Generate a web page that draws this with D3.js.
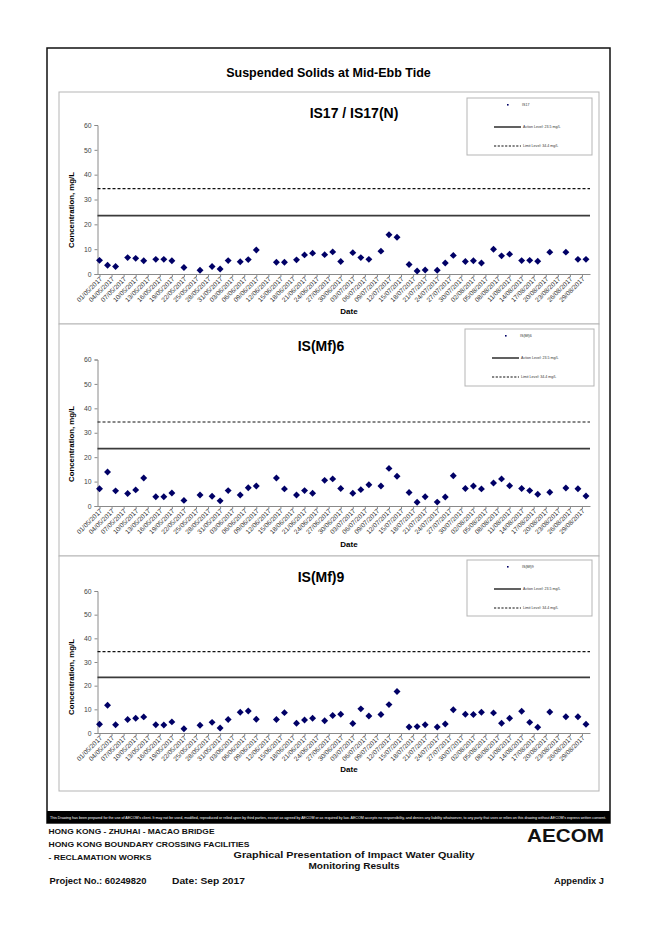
<!DOCTYPE html>
<html><head><meta charset="utf-8">
<script src="https://cdn.jsdelivr.net/npm/d3@7"></script>
<style>body{margin:0;background:#fff} svg{display:block} text{font-family:"Liberation Sans",Arial,sans-serif}</style>
</head><body><svg id="c" width="658" height="930"></svg>
<script>
const dates = ["01/05/2017","03/05/2017","05/05/2017","08/05/2017","10/05/2017","12/05/2017","15/05/2017","17/05/2017","19/05/2017","22/05/2017",
"26/05/2017","29/05/2017","31/05/2017","02/06/2017","05/06/2017","07/06/2017","09/06/2017","14/06/2017","16/06/2017","19/06/2017",
"21/06/2017","23/06/2017","26/06/2017","28/06/2017","30/06/2017","03/07/2017","05/07/2017","07/07/2017","10/07/2017","12/07/2017",
"14/07/2017","17/07/2017","19/07/2017","21/07/2017","24/07/2017","26/07/2017","28/07/2017","31/07/2017","02/08/2017","04/08/2017",
"07/08/2017","09/08/2017","11/08/2017","14/08/2017","16/08/2017","18/08/2017","21/08/2017","25/08/2017","28/08/2017","30/08/2017"];
const is17 = [5.5,3.5,3.0,6.6,6.3,5.3,5.9,5.9,5.3,2.6, 1.5,3.0,2.0,5.4,4.9,5.8,9.7,4.7,4.7,5.7, 7.7,8.4,7.8,8.9,5.0,8.6,6.6,5.9,9.2,15.8, 14.8,3.8,1.2,1.6,1.5,4.4,7.5,5.0,5.3,4.4, 10.0,7.3,8.0,5.4,5.5,5.1,8.8,8.8,5.9,5.9];
const isMf6 = [7.1,13.9,6.2,5.1,6.6,11.5,3.8,3.8,5.3,2.3, 4.5,4.0,2.1,6.3,4.5,7.5,8.2,11.5,7.0,4.5, 6.3,5.2,10.5,11.1,7.2,5.2,6.7,8.7,8.2,15.4, 12.2,5.5,1.5,3.8,1.6,3.7,12.4,7.2,8.2,7.0, 9.4,11.1,8.3,7.2,6.3,4.8,5.6,7.4,7.1,4.1];
const isMf9 = [3.7,11.7,3.5,5.7,6.2,6.8,3.5,3.4,4.7,1.8, 3.3,4.5,2.1,5.7,8.8,9.3,5.8,5.7,8.6,4.1, 5.5,6.2,5.2,7.4,7.9,4.0,10.2,7.2,7.8,12.0, 17.5,2.5,2.7,3.5,2.5,3.8,9.8,7.9,7.8,8.8, 8.5,4.1,6.2,9.2,4.5,2.4,8.9,6.9,6.9,3.7];
const tickLabels = ["01/05/2017","04/05/2017","07/05/2017","10/05/2017","13/05/2017","16/05/2017","19/05/2017","22/05/2017","25/05/2017","28/05/2017",
"31/05/2017","03/06/2017","06/06/2017","09/06/2017","12/06/2017","15/06/2017","18/06/2017","21/06/2017","24/06/2017","27/06/2017",
"30/06/2017","03/07/2017","06/07/2017","09/07/2017","12/07/2017","15/07/2017","18/07/2017","21/07/2017","24/07/2017","27/07/2017",
"30/07/2017","02/08/2017","05/08/2017","08/08/2017","11/08/2017","14/08/2017","17/08/2017","20/08/2017","23/08/2017","26/08/2017","29/08/2017"];
const yTicks = [0,10,20,30,40,50,60];
const actionLevel = 23.5;
const limitLevel = 34.4;
const chartTitles = ["IS17 / IS17(N)","IS(Mf)6","IS(Mf)9"];
const seriesNames = ["IS17","IS(Mf)6","IS(Mf)9"];
const seriesValues = [is17, isMf6, isMf9];

const parse = d3.timeParse("%d/%m/%Y");
const fmt = d3.timeFormat("%d/%m/%Y");
const svg = d3.select("#c");
const FONT = '"Liberation Sans",Arial,sans-serif';

// page frame
svg.append("rect").attr("x",47).attr("y",48).attr("width",563).attr("height",775)
  .attr("fill","none").attr("stroke","#111").attr("stroke-width",1.5);
svg.append("text").attr("x",328.5).attr("y",77).attr("text-anchor","middle")
  .attr("font-size",12.5).attr("font-weight","bold").text("Suspended Solids at Mid-Ebb Tide");

const panels = [
  {top:92,bottom:324,y0:274,y60:125,titleX:354,titleY:117.5,leg:{x:467,y:98,w:125,h:57},dateY:314,ylabY:210},
  {top:324,bottom:556,y0:506,y60:359.5,titleX:321,titleY:350.5,leg:{x:465,y:329,w:129,h:57},dateY:546.5,ylabY:444},
  {top:556,bottom:791,y0:733,y60:591,titleX:321,titleY:581.5,leg:{x:467,y:560,w:125,h:56},dateY:772,ylabY:677}
];
const x = d3.scaleTime()
  .domain([new Date(2017,3,30,12), new Date(2017,7,31,0)])
  .range([97.5, 590]);

const diamond = {draw(ctx,size){const r=Math.sqrt(size/2);ctx.moveTo(0,-r);ctx.lineTo(r,0);ctx.lineTo(0,r);ctx.lineTo(-r,0);ctx.closePath();}};
const sym = d3.symbol().type(diamond).size(24);

panels.forEach((p,i)=>{
  const g = svg.append("g");
  g.append("rect").attr("x",59).attr("y",p.top).attr("width",540).attr("height",p.bottom-p.top)
    .attr("fill","#fff").attr("stroke","#b5b5b5").attr("stroke-width",1);
  const y = d3.scaleLinear().domain([0,60]).range([p.y0,p.y60]);

  // axes
  const ya = g.append("g").attr("transform",`translate(${x.range()[0]},0)`)
    .call(d3.axisLeft(y).tickValues(yTicks).tickSize(3).tickPadding(3));
  ya.select(".domain").attr("stroke","#8a8a8a");
  ya.selectAll(".tick line").attr("stroke","#8a8a8a");
  ya.selectAll(".tick text").attr("font-size",6.8).attr("fill","#444").attr("font-family",FONT);

  const xa = g.append("g").attr("transform",`translate(0,${p.y0})`)
    .call(d3.axisBottom(x).tickValues(tickLabels.map(parse)).tickFormat(fmt).tickSize(3).tickSizeOuter(0));
  xa.select(".domain").attr("stroke","#8a8a8a");
  xa.selectAll(".tick line").attr("stroke","#8a8a8a");
  xa.selectAll(".tick text").attr("font-size",6.5).attr("fill","#333").attr("font-family",FONT)
    .attr("text-anchor","end").attr("dy",null).attr("y",0)
    .attr("transform","translate(2.5,5.5) rotate(-45)");

  // reference lines
  g.append("line").attr("x1",x.range()[0]).attr("x2",x.range()[1])
    .attr("y1",y(actionLevel)).attr("y2",y(actionLevel))
    .attr("stroke","#3a3a3a").attr("stroke-width",1.6);
  g.append("line").attr("x1",x.range()[0]).attr("x2",x.range()[1])
    .attr("y1",y(limitLevel)).attr("y2",y(limitLevel))
    .attr("stroke","#111").attr("stroke-width",1.2).attr("stroke-dasharray","3,2");

  // points
  g.selectAll("path.pt").data(dates.map((d,k)=>({d:parse(d),v:seriesValues[i][k]})))
    .enter().append("path").attr("class","pt")
    .attr("transform",d=>`translate(${x(d.d)},${y(d.v)})`)
    .attr("d",sym).attr("fill","#000066");

  // titles
  g.append("text").attr("x",p.titleX).attr("y",p.titleY).attr("text-anchor","middle")
    .attr("font-size",14).attr("font-weight","bold").text(chartTitles[i]);
  g.append("text").attr("x",349).attr("y",p.dateY).attr("text-anchor","middle")
    .attr("font-size",8).attr("font-weight","bold").text("Date");
  g.append("text").attr("transform",`translate(74,${p.ylabY}) rotate(-90)`).attr("text-anchor","middle")
    .attr("font-size",7.8).attr("font-weight","bold").text("Concentration, mg/L");

  // legend
  const L = p.leg;
  const lg = g.append("g").attr("transform",`translate(${L.x},${L.y})`);
  lg.append("rect").attr("width",L.w).attr("height",L.h).attr("fill","#fff").attr("stroke","#b5b5b5");
  lg.append("rect").attr("x",40).attr("y",6).attr("width",1.6).attr("height",1.6).attr("fill","#000066");
  lg.append("text").attr("x",55).attr("y",8).attr("font-size",3.6).attr("fill","#333").text(seriesNames[i]);
  lg.append("line").attr("x1",27).attr("x2",54).attr("y1",29).attr("y2",29).attr("stroke","#3a3a3a").attr("stroke-width",1.6);
  lg.append("text").attr("x",56).attr("y",30.3).attr("font-size",3.6).attr("fill","#333").text(`Action Level: ${actionLevel} mg/L`);
  lg.append("line").attr("x1",27).attr("x2",54).attr("y1",48).attr("y2",48).attr("stroke","#111").attr("stroke-width",1.1).attr("stroke-dasharray","2.2,1.5");
  lg.append("text").attr("x",56).attr("y",49.3).attr("font-size",3.6).attr("fill","#333").text(`Limit Level: ${limitLevel} mg/L`);
});

// footer
svg.append("rect").attr("x",47).attr("y",811).attr("width",563).attr("height",12).attr("fill","#000");
svg.append("text").attr("x",50).attr("y",818.5).attr("font-size",3.6).attr("fill","#fff")
  .attr("textLength",556).attr("lengthAdjust","spacingAndGlyphs")
  .text("This Drawing has been prepared for the use of AECOM's client. It may not be used, modified, reproduced or relied upon by third parties, except as agreed by AECOM or as required by law. AECOM accepts no responsibility, and denies any liability whatsoever, to any party that uses or relies on this drawing without AECOM's express written consent.");
const ft = [
  {t:"HONG KONG - ZHUHAI - MACAO BRIDGE",x:48.5,y:834,s:8,a:"start",w:166},
  {t:"HONG KONG BOUNDARY CROSSING FACILITIES",x:48.5,y:847,s:8,a:"start",w:201},
  {t:"- RECLAMATION WORKS",x:48.5,y:860,s:8,a:"start",w:103},
  {t:"Graphical Presentation of Impact Water Quality",x:354,y:857.5,s:9.5,a:"middle",w:241},
  {t:"Monitoring Results",x:354,y:869,s:9.5,a:"middle",w:91},
  {t:"Project No.: 60249820",x:49.5,y:883.5,s:8.5,a:"start",w:97},
  {t:"Date: Sep 2017",x:172,y:883.5,s:8.5,a:"start",w:73},
  {t:"Appendix J",x:604,y:883.5,s:9,a:"end",w:50}
];
ft.forEach(f=>{
  svg.append("text").attr("x",f.x).attr("y",f.y).attr("font-size",f.s).attr("font-weight","bold")
    .attr("text-anchor",f.a).attr("fill","#111").attr("textLength",f.w).attr("lengthAdjust","spacingAndGlyphs").text(f.t);
});
svg.append("text").attr("x",527).attr("y",842).attr("font-size",17.5).attr("font-weight","900")
  .attr("font-family","'DejaVu Sans',sans-serif").attr("fill","#111")
  .attr("textLength",77).attr("lengthAdjust","spacingAndGlyphs").text("AECOM");
</script></body></html>
